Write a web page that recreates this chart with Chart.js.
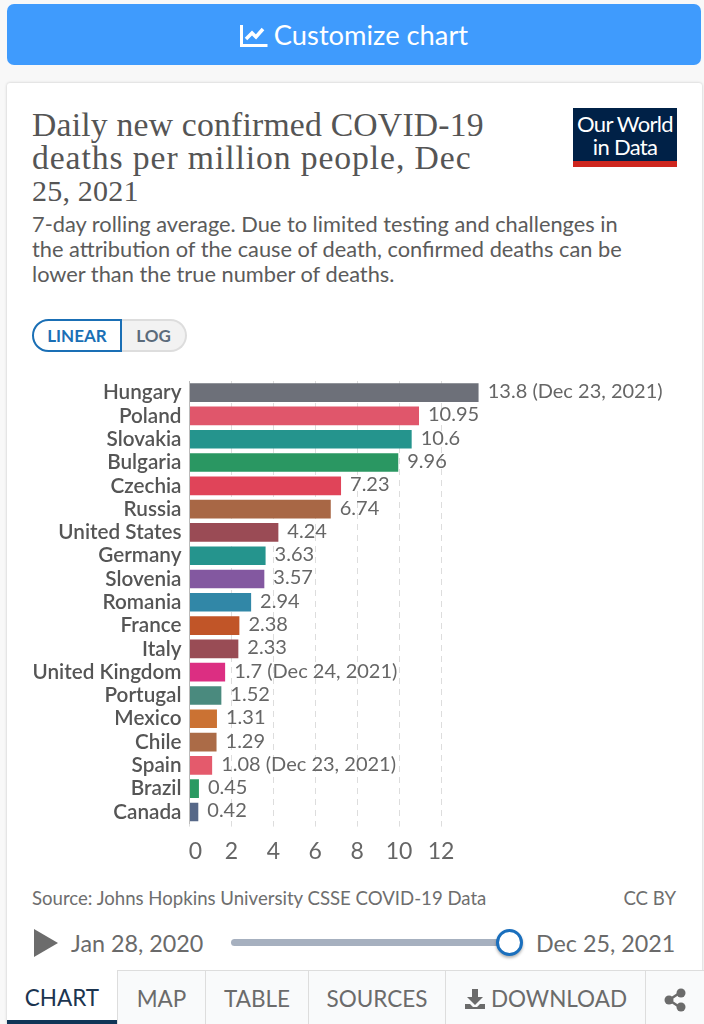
<!DOCTYPE html>
<html>
<head>
<meta charset="utf-8">
<title>Daily new confirmed COVID-19 deaths per million people</title>
<script src="https://cdn.jsdelivr.net/npm/chart.js@4"></script>
<style>
  html, body { margin: 0; padding: 0; }
  body { width: 704px; height: 1024px; background: #f8f8f8; overflow: hidden; position: relative; font-family: Lato, sans-serif; }
  .abs { position: absolute; white-space: nowrap; }
  #customize { left: 7px; top: 4px; width: 694px; height: 61px; background: #3f9bfd; border-radius: 7px; color: #fff; font-size: 27.3px; line-height: 61px; text-align: center; }
  #customize svg { vertical-align: -3px; margin-right: 6px; }
  #card { left: 7px; top: 83px; width: 695px; height: 941px; background: #fff; box-shadow: 0 0 3px rgba(0,0,0,.22); border-radius: 3px 3px 0 0; }
  .title { left: 32px; font-family: "Liberation Serif", serif; font-size: 33.7px; color: #555; line-height: 34px; letter-spacing: .2px; }
  .sub { left: 32px; font-size: 21.8px; color: #5b5b5b; line-height: 26px; }
  #logo { left: 573px; top: 108px; width: 104px; height: 59px; background: #002147; color: #fff; text-align: center; font-size: 22px; line-height: 23px; letter-spacing: -.7px; padding-top: 4px; box-sizing: border-box; border-bottom: 6px solid #ce261e; }
  #linear { left: 32px; top: 319px; width: 90px; height: 33px; box-sizing: border-box; border: 2px solid #1a6fb5; border-radius: 17px 0 0 17px; color: #1a6fb5; font-size: 17px; font-weight: 700; line-height: 29px; text-align: center; background: #fff; }
  #log { left: 122px; top: 319px; width: 65px; height: 33px; box-sizing: border-box; border: 2px solid #ddd; border-left: 0; border-radius: 0 17px 17px 0; background: #f2f2f2; color: #5b6b7b; font-size: 17px; font-weight: 700; line-height: 29px; text-align: center; }
  #chartBox { position: absolute; left: 0; top: 370px; width: 704px; height: 500px; }
  .foot { font-size: 18.6px; color: #6e6e6e; line-height: 22px; }
  .date { font-size: 23.3px; color: #6a6a6a; line-height: 28px; }
  #play { left: 34px; top: 929px; width: 0; height: 0; border-left: 24px solid #6c6c6c; border-top: 14px solid transparent; border-bottom: 14px solid transparent; }
  #track { left: 231px; top: 939px; width: 279px; height: 7px; background: #a6b0bf; border-radius: 4px; }
  #thumb { left: 496px; top: 929px; width: 27px; height: 27px; box-sizing: border-box; background: #fff; border: 3px solid #1a6fbd; border-radius: 50%; box-shadow: 0 2px 3px rgba(0,0,0,.3); }
  .tab { top: 970px; height: 54px; box-sizing: border-box; background: #f9fafb; border-top: 1px solid #ddd; border-left: 1px solid #ddd; color: #6b6b6b; font-size: 22.5px; line-height: 56px; text-align: center; }
  #tabChart { background: #fff; color: #1c3550; border-top: 0; border-left: 0; border-bottom: 4px solid #0f3557; }
</style>
</head>
<body>
<div class="abs" id="customize"><svg width="28" height="24" viewBox="0 0 28 24"><path d="M1.5 1v20.5h26" fill="none" stroke="#fff" stroke-width="3"/><path d="M6 15l6-6 4 4 7-8" fill="none" stroke="#fff" stroke-width="3.5"/></svg>Customize chart</div>
<div class="abs" id="card"></div>
<div class="abs title" style="top:108px">Daily new confirmed COVID-19</div>
<div class="abs title" style="top:141px;letter-spacing:.9px">deaths per million people, Dec</div>
<div class="abs title" style="top:174px;font-size:30px">25, 2021</div>
<div class="abs sub" style="top:211px">7-day rolling average. Due to limited testing and challenges in</div>
<div class="abs sub" style="top:236px">the attribution of the cause of death, confirmed deaths can be</div>
<div class="abs sub" style="top:261px">lower than the true number of deaths.</div>
<div class="abs" id="logo">Our World<br>in Data</div>
<div class="abs" id="linear">LINEAR</div>
<div class="abs" id="log">LOG</div>
<div id="chartBox"><canvas id="deaths"></canvas></div>
<div class="abs foot" style="left:32px;top:887px">Source: Johns Hopkins University CSSE COVID-19 Data</div>
<div class="abs foot" style="right:28px;top:887px">CC BY</div>
<div class="abs" id="play"></div>
<div class="abs date" style="left:71px;top:929px">Jan 28, 2020</div>
<div class="abs" id="track"></div>
<div class="abs" id="thumb"></div>
<div class="abs date" style="left:536px;top:929px">Dec 25, 2021</div>
<div class="abs tab" id="tabChart" style="left:7px;width:110px">CHART</div>
<div class="abs tab" style="left:117px;width:88px">MAP</div>
<div class="abs tab" style="left:205px;width:103px">TABLE</div>
<div class="abs tab" style="left:308px;width:137px">SOURCES</div>
<div class="abs tab" style="left:445px;width:200px"><svg width="22" height="22" viewBox="0 0 22 22" style="vertical-align:-3px;margin-right:5px"><path d="M8 1h6v8h5l-8 8-8-8h5z M1 16h5l3 3h4l3-3h5v5H1z" fill="#6b6b6b"/></svg>DOWNLOAD</div>
<div class="abs tab" style="left:645px;width:59px"><svg width="22" height="24" viewBox="0 0 22 24" style="vertical-align:-5px"><path d="M17 4L5 12l12 8" fill="none" stroke="#6b6b6b" stroke-width="2.5"/><circle cx="17" cy="5" r="4.5" fill="#6b6b6b"/><circle cx="5" cy="12" r="4.5" fill="#6b6b6b"/><circle cx="17" cy="19" r="4.5" fill="#6b6b6b"/></svg></div>

<script>
const countries = ["Hungary", "Poland", "Slovakia", "Bulgaria", "Czechia", "Russia", "United States", "Germany", "Slovenia", "Romania", "France", "Italy", "United Kingdom", "Portugal", "Mexico", "Chile", "Spain", "Brazil", "Canada"];
const deaths = [13.8, 10.95, 10.6, 9.96, 7.23, 6.74, 4.24, 3.63, 3.57, 2.94, 2.38, 2.33, 1.7, 1.52, 1.31, 1.29, 1.08, 0.45, 0.42];
const dateNotes = ["(Dec 23, 2021)", "", "", "", "", "", "", "", "", "", "", "", "(Dec 24, 2021)", "", "", "", "(Dec 23, 2021)", "", ""];
const barColors = ["#6d7079", "#e0566b", "#25948d", "#2a9762", "#e04459", "#a86745", "#9a4b55", "#25948d", "#8358a0", "#3187a7", "#c15528", "#994c55", "#dc2e82", "#4a8a7e", "#cb7233", "#ab6b47", "#e45a6c", "#2a9a62", "#566888"];

// value labels at the end of each bar
const valueLabels = {
  id: "valueLabels",
  afterDatasetsDraw(chart) {
    const ctx = chart.ctx;
    ctx.save();
    ctx.font = "20px Lato";
    ctx.fillStyle = "#666";
    ctx.textBaseline = "middle";
    chart.getDatasetMeta(0).data.forEach(function(bar, i) {
      const note = dateNotes[i] ? " " + dateNotes[i] : "";
      ctx.fillText(deaths[i] + note, bar.x + 9, bar.y - 1);
    });
    ctx.restore();
  }
};

const ctx1 = document.getElementById("deaths").getContext("2d");
const deathsChart = new Chart(ctx1, {
  type: "bar",
  data: {
    labels: countries,
    datasets: [{
      data: deaths,
      backgroundColor: barColors,
      barPercentage: 0.8,
      categoryPercentage: 1
    }]
  },
  plugins: [valueLabels],
  options: {
    indexAxis: "y",
    responsive: true,
    maintainAspectRatio: false,
    animation: false,
    layout: { padding: { top: 11, right: 225.25, left: 0, bottom: 0 } },
    plugins: {
      legend: { display: false },
      tooltip: { enabled: false }
    },
    scales: {
      x: {
        min: 0,
        max: 13.8,
        afterFit: function(scale) { scale.height = 46.4; scale.paddingLeft = 0; scale.paddingRight = 0; },
        border: { display: false, dash: [6, 5] },
        grid: { color: "#ddd", tickColor: "#ddd", tickBorderDash: [6, 5], tickLength: 3 },
        ticks: {
          stepSize: 2,
          includeBounds: false,
          maxRotation: 0,
          padding: 11,
          color: "#666",
          font: { family: "Lato", size: 23 },
          callback: function(value) { return value === 0 ? "\u00a0\u00a00" : value; }
        }
      },
      y: {
        afterFit: function(scale) { scale.width = 189.5; scale.paddingTop = 0; scale.paddingBottom = 0; },
        border: { color: "#bbb" },
        grid: { display: false, drawTicks: false },
        ticks: {
          padding: 8,
          autoSkip: false,
          color: "#555",
          font: { family: "Lato", size: 20.7, weight: "600" }
        }
      }
    }
  }
});
</script>
</body>
</html>
